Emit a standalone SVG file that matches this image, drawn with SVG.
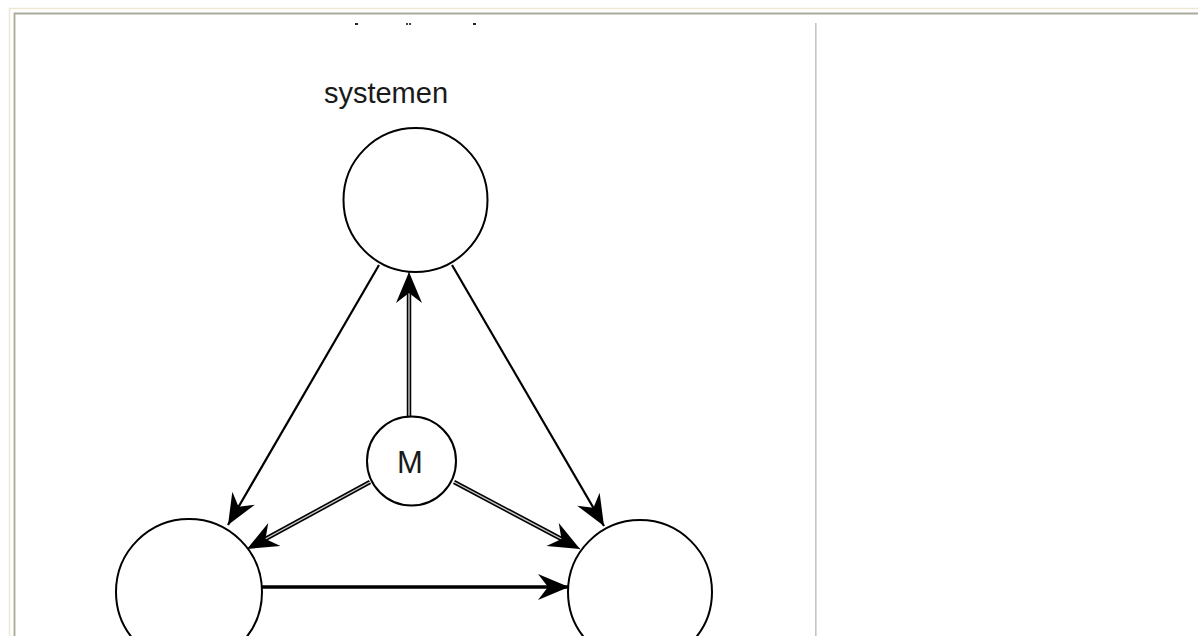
<svg xmlns="http://www.w3.org/2000/svg" width="1198" height="636" viewBox="0 0 1198 636">
<style>
.node{fill:#fff;stroke:#000;stroke-width:2}
.lbl{font-family:"Liberation Sans",Arial,sans-serif;fill:#1a1a1a}
.single{stroke:#000;stroke-width:2.2;fill:none}
.thick{stroke:#000;stroke-width:3.5;fill:none}
.dblo{stroke:#000;stroke-width:4.5;fill:none}
.dbli{stroke:#c8c8c8;stroke-width:1.4;fill:none}
</style>
<defs>
<marker id="ah" markerUnits="userSpaceOnUse" viewBox="-32 -14 34 28" refX="0" refY="0" markerWidth="34" markerHeight="28" orient="auto">
<path d="M0,0 L-31,-13 L-21,0 L-31,13 Z" fill="#000"/>
</marker>
</defs>
<rect width="1198" height="636" fill="#fff"/>
<g id="frame">
<path d="M9.5,636 V8.5 H1198" fill="none" stroke="#eee8d2" stroke-width="1.5"/>
<path d="M14.5,636 V13.5 H1198" fill="none" stroke="#a9a99c" stroke-width="1.8"/>
<line x1="815.8" y1="23" x2="815.8" y2="636" stroke="#c4c4c4" stroke-width="1.6"/>
<rect x="355" y="23" width="3" height="2" fill="#222"/>
<rect x="406" y="23" width="2" height="2" fill="#444"/>
<rect x="409" y="23" width="2" height="2" fill="#444"/>
<rect x="473" y="23" width="3" height="2" fill="#222"/>
</g>
<g id="connectors">
<line class="single" x1="379" y1="265" x2="228" y2="525" marker-end="url(#ah)"/>
<line class="single" x1="452" y1="265" x2="604" y2="526" marker-end="url(#ah)"/>
<line class="thick" x1="262" y1="587" x2="569" y2="587" marker-end="url(#ah)"/>
<g>
<line class="dblo" x1="409" y1="418" x2="409" y2="285"/>
<line class="dbli" x1="409" y1="418" x2="409" y2="285"/>
<line x1="409" y1="290" x2="409" y2="272" stroke="#000" stroke-width="1" marker-end="url(#ah)"/>
</g>
<g>
<line class="dblo" x1="370" y1="482" x2="258" y2="543"/>
<line class="dbli" x1="370" y1="482" x2="258" y2="543"/>
<line x1="262" y1="541" x2="247" y2="549" stroke="#000" stroke-width="1" marker-end="url(#ah)"/>
</g>
<g>
<line class="dblo" x1="454" y1="482" x2="569" y2="543"/>
<line class="dbli" x1="454" y1="482" x2="569" y2="543"/>
<line x1="565" y1="541" x2="580" y2="549" stroke="#000" stroke-width="1" marker-end="url(#ah)"/>
</g>
</g>
<g id="node-top">
<text class="lbl" x="386" y="103" font-size="29" text-anchor="middle">systemen</text>
<circle class="node" cx="415.5" cy="200" r="72"/>
</g>
<g id="node-M">
<circle class="node" cx="411.5" cy="461" r="44.5"/>
<text class="lbl" x="410" y="473" font-size="31" text-anchor="middle">M</text>
</g>
<g id="node-left">
<circle class="node" cx="189" cy="592" r="73"/>
</g>
<g id="node-right">
<circle class="node" cx="640" cy="592" r="72"/>
</g>
</svg>
